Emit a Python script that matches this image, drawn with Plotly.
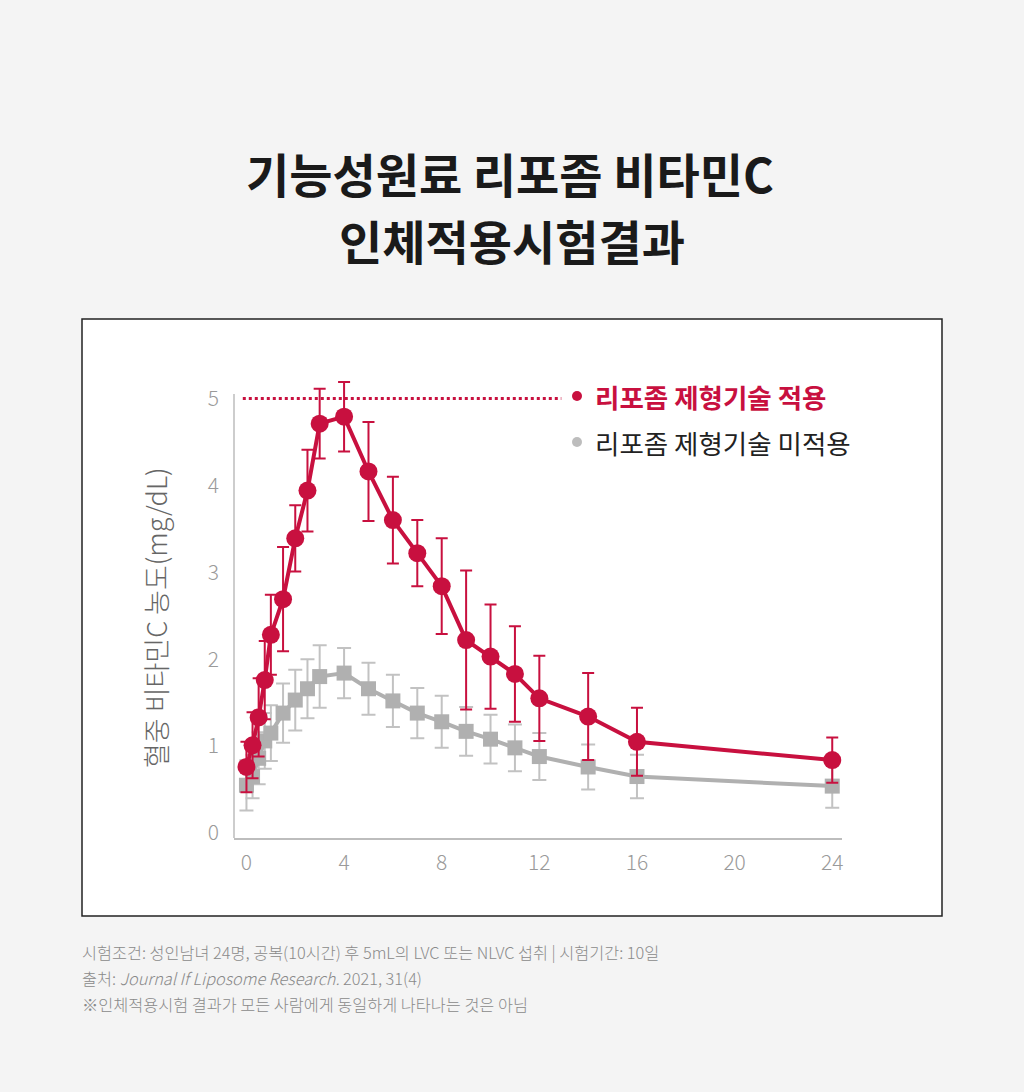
import plotly.graph_objects as go

# ---------------- data ----------------
hours = [0, 0.25, 0.5, 0.75, 1, 1.5, 2, 2.5, 3, 4, 5, 6, 7, 8, 9, 10, 11, 12, 14, 16, 24]

lipo_mean = [0.76, 1.01, 1.33, 1.76, 2.28, 2.69, 3.39, 3.94, 4.71, 4.79, 4.16, 3.60,
             3.22, 2.84, 2.22, 2.03, 1.83, 1.55, 1.34, 1.05, 0.84]
lipo_err = [0.29, 0.38, 0.45, 0.45, 0.46, 0.60, 0.38, 0.47, 0.40, 0.40, 0.57, 0.50,
            0.38, 0.55, 0.80, 0.60, 0.55, 0.49, 0.50, 0.39, 0.26]

plain_mean = [0.55, 0.65, 0.86, 1.06, 1.15, 1.38, 1.53, 1.66, 1.80, 1.84, 1.66, 1.52,
              1.38, 1.28, 1.17, 1.08, 0.98, 0.88, 0.76, 0.65, 0.54]
plain_err = [0.29, 0.25, 0.30, 0.32, 0.32, 0.34, 0.35, 0.34, 0.36, 0.29, 0.30, 0.30,
             0.29, 0.30, 0.28, 0.28, 0.27, 0.27, 0.26, 0.25, 0.25]

x_ticks = [0, 4, 8, 12, 16, 20, 24]
y_ticks = [0, 1, 2, 3, 4, 5]
ref_level = 5

title_lines = ["기능성원료 리포좀 비타민C", "인체적용시험결과"]
series_names = ["리포좀 제형기술 적용", "리포좀 제형기술 미적용"]
y_label = "혈중 비타민C 농도(mg/dL)"
footer_lines = [
    "시험조건: 성인남녀 24명, 공복(10시간) 후 5mL의 LVC 또는 NLVC 섭취 | 시험기간: 10일",
    "출처: <i>Journal If Liposome Research.</i> 2021, 31(4)",
    "※인체적용시험 결과가 모든 사람에게 동일하게 나타나는 것은 아님",
]

# ---------------- style ----------------
W, H = 1024, 1092
RED = "#C8103F"
GRAY = "#B0B0B0"
GRAY_ERR = "#C2C2C2"
BG = "#F4F4F4"
FONT = "Noto Sans CJK KR"

ML, MR, MT, MB = 234, 182, 368, 254
PW = W - ML - MR
PH = H - MT - MB


def px(x):
    return (x - ML) / PW


def py(y):
    return (H - MB - y) / PH


fig = go.Figure()

fig.add_trace(go.Scatter(
    x=hours, y=plain_mean, name=series_names[1], mode="lines+markers",
    line=dict(color=GRAY, width=4),
    marker=dict(symbol="square", size=15, color=GRAY),
    error_y=dict(type="data", array=plain_err, color=GRAY_ERR, thickness=2, width=7),
    showlegend=False, cliponaxis=False,
))
fig.add_trace(go.Scatter(
    x=hours, y=lipo_mean, name=series_names[0], mode="lines+markers",
    line=dict(color=RED, width=4),
    marker=dict(symbol="circle", size=18, color=RED),
    error_y=dict(type="data", array=lipo_err, color=RED, thickness=2, width=6),
    showlegend=False, cliponaxis=False,
))

shapes = [
    # white panel
    dict(type="rect", xref="paper", yref="paper", x0=px(82), x1=px(942), y0=py(916), y1=py(319),
         fillcolor="white", line=dict(color="#222222", width=1.5), layer="below"),
    # y axis line
    dict(type="line", xref="paper", yref="y", x0=0, x1=0, y0=-0.06, y1=ref_level + 0.05,
         line=dict(color="#BDBDBD", width=1.5)),
    # dotted reference line
    dict(type="line", xref="x", yref="y", x0=-0.15, x1=12.9, y0=ref_level, y1=ref_level,
         line=dict(color=RED, width=3, dash="dot")),
    # legend dots
    dict(type="circle", xref="paper", yref="paper", x0=px(572), x1=px(582), y0=py(401), y1=py(391),
         fillcolor=RED, line=dict(width=0)),
    dict(type="circle", xref="paper", yref="paper", x0=px(572), x1=px(582), y0=py(447), y1=py(437),
         fillcolor="#BDBDBD", line=dict(width=0)),
]

annotations = [
    dict(text=title_lines[0], x=px(510), y=py(172), xref="paper", yref="paper", showarrow=False,
         xanchor="center", yanchor="middle", font=dict(family=FONT, size=47, color="#1A1A1A", weight=700)),
    dict(text=title_lines[1], x=px(512), y=py(239), xref="paper", yref="paper", showarrow=False,
         xanchor="center", yanchor="middle", font=dict(family=FONT, size=47, color="#1A1A1A", weight=700)),
    dict(text=series_names[0], x=px(593), y=py(396), xref="paper", yref="paper", showarrow=False,
         xanchor="left", yanchor="middle", font=dict(family=FONT, size=26.5, color=RED, weight=700)),
    dict(text=series_names[1], x=px(593), y=py(442), xref="paper", yref="paper", showarrow=False,
         xanchor="left", yanchor="middle", font=dict(family=FONT, size=26.5, color="#222222")),
    dict(text=y_label, x=px(155), y=py(618), xref="paper", yref="paper", showarrow=False,
         textangle=-90, xanchor="center", yanchor="middle",
         font=dict(family=FONT, size=27, color="#666666", weight=300)),
]
for i, line in enumerate(footer_lines):
    annotations.append(dict(text=line, x=px(80), y=py(952 + 26 * i), xref="paper", yref="paper",
                            showarrow=False, xanchor="left", yanchor="middle",
                            font=dict(family=FONT, size=16.3, color="#8A8A8A", weight=300)))

fig.update_layout(
    width=W, height=H,
    margin=dict(l=ML, r=MR, t=MT, b=MB, pad=0),
    paper_bgcolor=BG, plot_bgcolor="white",
    font=dict(family=FONT),
    shapes=shapes, annotations=annotations,
    xaxis=dict(range=[-0.51, 24.4], tickvals=x_ticks, showgrid=False, zeroline=False,
               showline=True, linecolor="#BDBDBD", linewidth=1.5, ticks="",
               ticklabelstandoff=5,
               tickfont=dict(family=FONT, size=21, color="#9A9A9A", weight=300)),
    yaxis=dict(range=[-0.057, 5.35], tickvals=y_ticks, showgrid=False, zeroline=False,
               showline=False, ticks="", ticklabelstandoff=14,
               tickfont=dict(family=FONT, size=21, color="#9A9A9A", weight=300)),
)

fig.write_html("out.html")
